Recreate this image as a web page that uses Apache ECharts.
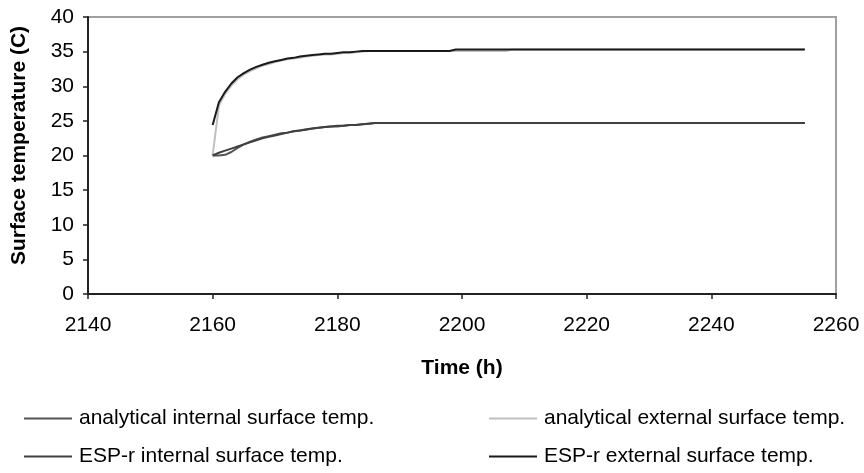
<!DOCTYPE html>
<html>
<head>
<meta charset="utf-8">
<script src="https://cdn.jsdelivr.net/npm/echarts@6/dist/echarts.min.js"></script>
<style>
html,body{margin:0;padding:0;background:#fff;}
#chart{width:864px;height:473px;}
</style>
</head>
<body>
<div id="chart"></div>
<script>
// Time (h), hourly from 2160 to 2255
const startHour = 2160;

const analyticalInternal = [
  20.0, 20.0, 20.1, 20.5, 21.1, 21.6, 22.0, 22.3, 22.6, 22.8,
  23.0, 23.2, 23.3, 23.5, 23.6, 23.7, 23.9, 24.0, 24.1, 24.2,
  24.2, 24.3, 24.4, 24.4, 24.5, 24.6, 24.7, 24.7, 24.7, 24.7,
  24.7, 24.7, 24.7, 24.7, 24.7, 24.7, 24.7, 24.7, 24.7, 24.7,
  24.7, 24.7, 24.7, 24.7, 24.7, 24.7, 24.7, 24.7, 24.7, 24.7,
  24.7, 24.7, 24.7, 24.7, 24.7, 24.7, 24.7, 24.7, 24.7, 24.7,
  24.7, 24.7, 24.7, 24.7, 24.7, 24.7, 24.7, 24.7, 24.7, 24.7,
  24.7, 24.7, 24.7, 24.7, 24.7, 24.7, 24.7, 24.7, 24.7, 24.7,
  24.7, 24.7, 24.7, 24.7, 24.7, 24.7, 24.7, 24.7, 24.7, 24.7,
  24.7, 24.7, 24.7, 24.7, 24.7, 24.7
];

const analyticalExternal = [
  20.0, 27.2, 28.9, 30.1, 31.0, 31.7, 32.2, 32.6, 33.0, 33.2,
  33.5, 33.7, 33.9, 34.0, 34.1, 34.3, 34.4, 34.5, 34.6, 34.6,
  34.7, 34.8, 34.8, 34.9, 35.0, 35.1, 35.1, 35.1, 35.1, 35.1,
  35.1, 35.1, 35.1, 35.1, 35.1, 35.1, 35.1, 35.1, 35.1, 35.1,
  35.1, 35.1, 35.1, 35.1, 35.1, 35.1, 35.1, 35.1, 35.3, 35.3,
  35.3, 35.3, 35.3, 35.3, 35.3, 35.3, 35.3, 35.3, 35.3, 35.3,
  35.3, 35.3, 35.3, 35.3, 35.3, 35.3, 35.3, 35.3, 35.3, 35.3,
  35.3, 35.3, 35.3, 35.3, 35.3, 35.3, 35.3, 35.3, 35.3, 35.3,
  35.3, 35.3, 35.3, 35.3, 35.3, 35.3, 35.3, 35.3, 35.3, 35.3,
  35.3, 35.3, 35.3, 35.3, 35.3, 35.3
];

const esprInternal = [
  20.0, 20.4, 20.7, 21.0, 21.3, 21.6, 21.9, 22.2, 22.5, 22.7,
  22.9, 23.1, 23.3, 23.5, 23.6, 23.8, 23.9, 24.0, 24.1, 24.2,
  24.3, 24.3, 24.4, 24.4, 24.5, 24.6, 24.7, 24.7, 24.7, 24.7,
  24.7, 24.7, 24.7, 24.7, 24.7, 24.7, 24.7, 24.7, 24.7, 24.7,
  24.7, 24.7, 24.7, 24.7, 24.7, 24.7, 24.7, 24.7, 24.7, 24.7,
  24.7, 24.7, 24.7, 24.7, 24.7, 24.7, 24.7, 24.7, 24.7, 24.7,
  24.7, 24.7, 24.7, 24.7, 24.7, 24.7, 24.7, 24.7, 24.7, 24.7,
  24.7, 24.7, 24.7, 24.7, 24.7, 24.7, 24.7, 24.7, 24.7, 24.7,
  24.7, 24.7, 24.7, 24.7, 24.7, 24.7, 24.7, 24.7, 24.7, 24.7,
  24.7, 24.7, 24.7, 24.7, 24.7, 24.7
];

const esprExternal = [
  24.4, 27.7, 29.2, 30.4, 31.3, 31.9, 32.4, 32.8, 33.1, 33.4,
  33.6, 33.8, 34.0, 34.1, 34.3, 34.4, 34.5, 34.6, 34.7, 34.7,
  34.8, 34.9, 34.9, 35.0, 35.1, 35.1, 35.1, 35.1, 35.1, 35.1,
  35.1, 35.1, 35.1, 35.1, 35.1, 35.1, 35.1, 35.1, 35.1, 35.3,
  35.3, 35.3, 35.3, 35.3, 35.3, 35.3, 35.3, 35.3, 35.3, 35.3,
  35.3, 35.3, 35.3, 35.3, 35.3, 35.3, 35.3, 35.3, 35.3, 35.3,
  35.3, 35.3, 35.3, 35.3, 35.3, 35.3, 35.3, 35.3, 35.3, 35.3,
  35.3, 35.3, 35.3, 35.3, 35.3, 35.3, 35.3, 35.3, 35.3, 35.3,
  35.3, 35.3, 35.3, 35.3, 35.3, 35.3, 35.3, 35.3, 35.3, 35.3,
  35.3, 35.3, 35.3, 35.3, 35.3, 35.3
];

const seriesNames = [
  'analytical internal surface temp.',
  'analytical external surface temp.',
  'ESP-r internal surface temp.',
  'ESP-r external surface temp.'
];
const seriesColors = ['#555555', '#bfbfbf', '#404040', '#1a1a1a'];

function pairs(vals) {
  return vals.map((v, i) => [startHour + i, v]);
}

const chart = echarts.init(document.getElementById('chart'), null, {renderer: 'canvas'});
const font = 'Arial, "Liberation Sans", sans-serif';

const valueSets = [analyticalInternal, analyticalExternal, esprInternal, esprExternal];

function legendAt(left, names) {
  return {
    orient: 'vertical', left: left, top: 408, itemGap: 17, padding: 0,
    itemWidth: 48, itemHeight: 2, icon: 'rect',
    textStyle: {fontFamily: font, fontSize: 21, color: '#000', padding: [0, 0, 0, 2]},
    data: names
  };
}

chart.setOption({
  animation: false,
  backgroundColor: '#fff',
  grid: {
    left: 88, right: 28, top: 17, bottom: 179,
    show: true, borderColor: '#a0a0a0', borderWidth: 2, backgroundColor: 'transparent'
  },
  xAxis: {
    type: 'value', min: 2140, max: 2260, interval: 20,
    name: 'Time (h)', nameLocation: 'middle', nameGap: 64,
    nameTextStyle: {fontFamily: font, fontSize: 21, fontWeight: 'bold', color: '#000'},
    axisLine: {show: true, onZero: false, lineStyle: {color: '#222', width: 2}},
    axisTick: {show: true, length: 5, lineStyle: {color: '#222', width: 1.5}},
    axisLabel: {fontFamily: font, fontSize: 21, color: '#000', margin: 21,
      formatter: v => String(v)},
    splitLine: {show: false}
  },
  yAxis: {
    type: 'value', min: 0, max: 40, interval: 5,
    name: 'Surface temperature (C)', nameLocation: 'middle', nameGap: 58, nameRotate: 90,
    nameTextStyle: {fontFamily: font, fontSize: 21, fontWeight: 'bold', color: '#000',
      padding: [0, 0, 0, 20]},
    axisLine: {show: true, lineStyle: {color: '#222', width: 2}},
    axisTick: {show: true, length: 5, lineStyle: {color: '#222', width: 1.5}},
    axisLabel: {fontFamily: font, fontSize: 21, color: '#000', margin: 14},
    splitLine: {show: false}
  },
  legend: [
    legendAt(24, [seriesNames[0], seriesNames[2]]),
    legendAt(489, [seriesNames[1], seriesNames[3]])
  ],
  series: valueSets.map((vals, i) => ({
    name: seriesNames[i],
    type: 'line',
    data: pairs(vals),
    showSymbol: false,
    symbol: 'none',
    lineStyle: {color: seriesColors[i], width: 2},
    itemStyle: {color: seriesColors[i]},
    z: i === 1 ? 1 : 2 + i
  }))
});
</script>
</body>
</html>
